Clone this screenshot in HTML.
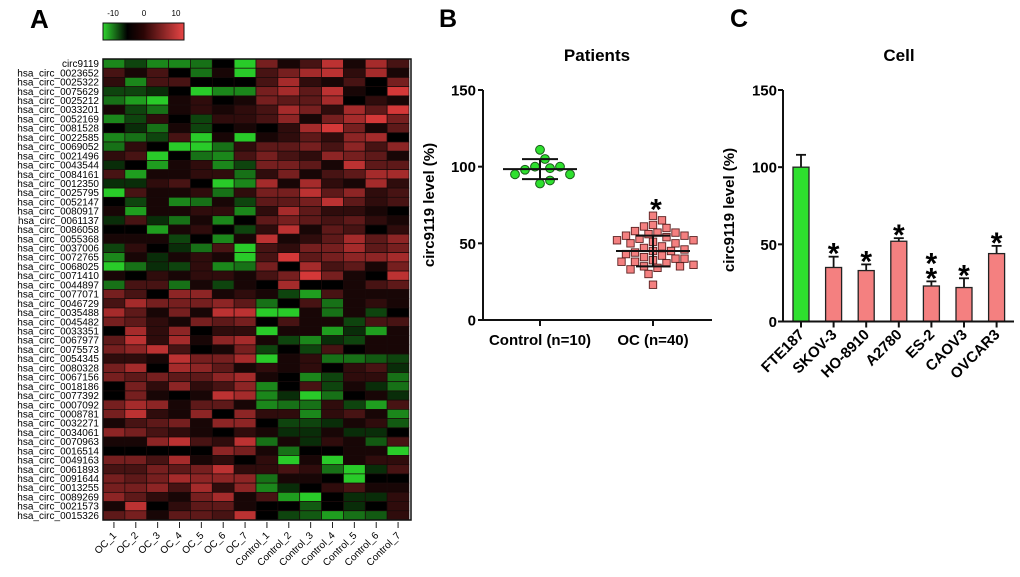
<!DOCTYPE html>
<html><head><meta charset="utf-8"><style>
html,body{margin:0;padding:0;background:#fff}
svg{display:block}
text{font-family:"Liberation Sans",Arial,sans-serif}
</style></head><body>
<svg id="fig" width="1020" height="577" viewBox="0 0 1020 577" xmlns="http://www.w3.org/2000/svg">
<text x="30" y="28" font-size="26" font-weight="bold">A</text>
<text x="439" y="27" font-size="25" font-weight="bold">B</text>
<text x="730" y="27" font-size="25" font-weight="bold">C</text>
<defs>
<linearGradient id="cbg" x1="0" x2="1" y1="0" y2="0">
<stop offset="0" stop-color="#2fd52f"/><stop offset="0.3" stop-color="#000"/><stop offset="0.5" stop-color="#2a0505"/><stop offset="1" stop-color="#e84545"/>
</linearGradient>
</defs>
<g>
<rect x="103" y="23" width="81" height="17" fill="url(#cbg)" stroke="#111" stroke-width="1"/>
<text x="113" y="16" font-size="8" text-anchor="middle">-10</text>
<text x="144" y="16" font-size="8" text-anchor="middle">0</text>
<text x="176" y="16" font-size="8" text-anchor="middle">10</text>
</g>
<g id="heat"></g>
<g id="pb"></g>
<g id="pc"></g>
</svg>
<script>
const NS="http://www.w3.org/2000/svg";
function mk(p,tag,attrs,txt){const e=document.createElementNS(NS,tag);for(const k in attrs)e.setAttribute(k,attrs[k]);if(txt!==undefined)e.textContent=txt;p.appendChild(e);return e;}

// ===== Panel A data =====
const heatCols=["OC_1","OC_2","OC_3","OC_4","OC_5","OC_6","OC_7","Control_1","Control_2","Control_3","Control_4","Control_5","Control_6","Control_7"];
const heatRows=["circ9119","hsa_circ_0023652","hsa_circ_0025322","hsa_circ_0075629","hsa_circ_0025212","hsa_circ_0033201","hsa_circ_0052169","hsa_circ_0081528","hsa_circ_0022585","hsa_circ_0069052","hsa_circ_0021496","hsa_circ_0043544","hsa_circ_0084161","hsa_circ_0012350","hsa_circ_0025795","hsa_circ_0052147","hsa_circ_0080917","hsa_circ_0061137","hsa_circ_0086058","hsa_circ_0055368","hsa_circ_0037006","hsa_circ_0072765","hsa_circ_0068025","hsa_circ_0071410","hsa_circ_0044897","hsa_circ_0077071","hsa_circ_0046729","hsa_circ_0035488","hsa_circ_0045482","hsa_circ_0033351","hsa_circ_0067977","hsa_circ_0075573","hsa_circ_0054345","hsa_circ_0080328","hsa_circ_0067156","hsa_circ_0018186","hsa_circ_0077392","hsa_circ_0007092","hsa_circ_0008781","hsa_circ_0032271","hsa_circ_0034061","hsa_circ_0070963","hsa_circ_0016514","hsa_circ_0049163","hsa_circ_0061893","hsa_circ_0091644","hsa_circ_0013255","hsa_circ_0089269","hsa_circ_0021573","hsa_circ_0015326"];
const heatValues=[
[-6,-3,-6,-6,-5,0,-9,5,1,3,8,1,7,3],
[3,1,3,0,-5,1,-9,3,5,7,8,2,7,1],
[2,-6,3,3,0,0,0,3,7,2,1,3,0,5],
[-3,-3,-2,0,-9,-6,-6,5,7,4,8,1,0,9],
[-5,-7,-9,1,2,0,1,5,4,4,7,0,2,1],
[1,-3,-5,1,2,1,2,3,7,5,2,7,4,9],
[-6,-3,2,0,-3,2,2,3,6,1,5,7,9,5],
[0,-2,-5,1,-3,0,1,0,2,7,9,5,1,4],
[-6,-5,-3,3,-9,1,-9,1,2,4,2,6,7,0],
[-5,2,0,-9,-9,-5,2,4,4,5,3,6,3,6],
[2,3,-9,0,-5,-6,3,5,3,2,6,5,4,1],
[-2,0,-7,1,2,-6,-3,5,5,4,1,8,4,4],
[3,-7,1,1,2,2,-5,2,5,1,3,4,7,7],
[-2,-2,2,3,0,-9,-6,7,1,7,2,1,7,2],
[-9,3,1,1,2,-5,2,5,5,8,4,6,2,3],
[0,-3,1,-6,-5,1,-3,4,4,5,8,4,2,3],
[1,-7,1,1,2,2,-6,2,7,4,2,2,1,0],
[-2,3,-2,-5,1,-6,0,4,5,4,3,4,2,1],
[0,0,-7,1,2,0,-3,2,8,1,4,3,0,2],
[1,1,1,-3,0,-6,1,8,1,2,4,7,4,6],
[-3,2,0,-2,-5,3,-9,3,2,5,5,7,4,5],
[-6,1,-2,1,2,1,-9,3,9,4,5,6,6,7],
[-9,-5,-2,-3,2,-6,-5,5,0,7,3,4,1,5],
[1,0,2,1,2,2,1,3,5,9,5,1,0,8],
[-5,3,3,-5,1,-3,1,0,7,0,0,1,3,4],
[5,3,0,6,6,1,2,1,-3,-7,3,1,1,1],
[3,7,5,5,5,6,4,-5,0,3,-5,1,2,1],
[7,4,1,5,1,8,8,-9,-9,1,-5,1,-3,0],
[5,4,2,1,5,4,5,0,3,1,1,-3,3,3],
[0,7,2,6,0,2,2,-9,1,1,-7,-2,-7,1],
[4,8,2,7,1,6,7,1,-3,-6,-2,-3,1,1],
[5,6,8,3,0,1,5,-3,0,-3,3,0,1,1],
[2,2,1,8,5,5,7,-9,1,2,-5,-5,-4,-3],
[5,7,0,7,6,4,1,2,1,2,0,2,3,-2],
[5,4,5,4,4,6,7,1,0,-6,-3,2,2,-5],
[0,5,2,6,2,3,6,-6,0,3,-3,1,-2,-5],
[0,5,1,0,1,8,7,-6,-2,-9,-5,0,1,-2],
[5,7,6,1,4,4,1,-6,-5,-5,2,-3,-7,3],
[5,8,2,1,6,0,6,2,2,-6,2,3,1,-6],
[1,3,4,5,1,6,6,0,-3,-3,-2,1,2,-4],
[6,5,3,2,1,0,2,1,-2,-2,1,-2,-2,0],
[1,1,6,8,3,2,8,-5,1,-2,2,1,-4,3],
[0,0,0,0,0,6,5,1,-5,0,0,1,1,-9],
[5,5,3,7,1,2,0,2,-9,1,-9,1,2,2],
[3,3,5,4,5,8,2,2,3,2,-5,-9,-2,3],
[5,4,5,7,6,6,6,-5,1,1,0,-9,0,0],
[5,5,6,3,7,2,6,-6,-2,0,2,3,1,1],
[6,4,2,1,5,7,1,3,-7,-9,0,-2,-2,2],
[1,8,0,2,4,4,1,0,0,-4,0,-2,0,2],
[4,5,1,4,4,3,8,0,-3,-4,-7,-5,-4,2]
];

// ===== Panel B data =====
const patientGroups=["Control (n=10)","OC (n=40)"];
const controlValues=[111,105,100,99,98,100,95,95,89,91];
const ocValues=[68,65,62,61,60,58,57,57,56,55,55,54,53,52,52,51,50,50,48,47,46,45,45,44,43,42,41,40,40,39,38,38,37,36,35,35,34,33,30,23];
const patientMeans=[98.4,45];
const patientSD=[6.5,10];
const patientTicks=[0,50,100,150];

// ===== Panel C data =====
const cellLines=["FTE187","SKOV-3","HO-8910","A2780","ES-2","CAOV3","OVCAR3"];
const cellValues=[100,35,33,52,23,22,44];
const cellErrors=[8,7,4,2,3,6,5];
const cellStars=[0,1,1,1,2,1,1];
const cellTicks=[0,50,100,150];

// ===== Draw heatmap =====
(function(){
  const g=document.getElementById('heat');
  const x0=103,x1=409,y0=59,y1=520;
  const cw=(x1-x0)/heatCols.length, rh=(y1-y0)/heatRows.length;
  function col(v){
    const t=Math.min(1,Math.abs(v)/10);
    if(v<0) return `rgb(${Math.round(45*t)},${Math.round(225*t)},${Math.round(45*t)})`;
    return `rgb(${Math.round(235*t)},${Math.round(62*t)},${Math.round(62*t)})`;
  }
  heatRows.forEach((r,i)=>{
    const t=mk(g,'text',{x:99,y:y0+rh*i+rh/2+3.5,'font-size':10,'text-anchor':'end'},r);
    
    
    heatValues[i].forEach((v,j)=>{
      const c=mk(g,'rect',{x:x0+cw*j,y:y0+rh*i,width:cw,height:rh,fill:col(v),stroke:'#1a0a0a','stroke-width':0.7});
      
      
    });
  });
  const fr=mk(g,'rect',{x:x0,y:y0,width:x1-x0+2,height:y1-y0,fill:'none',stroke:'#111','stroke-width':1.5});
  
  
  heatCols.forEach((c,j)=>{
    const cx=x0+cw*j+cw/2;
    mk(g,'line',{x1:cx,x2:cx,y1:y1+2,y2:y1+8,stroke:'#222','stroke-width':1});
    const t=mk(g,'text',{x:cx+3,y:y1+16,'font-size':10,'text-anchor':'end',transform:`rotate(-45 ${cx+3} ${y1+16})`},c);
    
    
  });
})();

// ===== Panel B =====
(function(){
  const g=document.getElementById('pb');
  const ax=483,y0=320,y150=90,xr=712;
  const Y=v=>y0-(v/150)*(y0-y150);
  const cx=[540,653];
  const tt=mk(g,'text',{x:597,y:61,'font-size':17,'font-weight':'bold','text-anchor':'middle'},'Patients');
  
  
  const yt=mk(g,'text',{x:0,y:0,'font-size':15,'font-weight':'bold','text-anchor':'middle',transform:`translate(434 205) rotate(-90)`},'circ9119 level (%)');
  
  
  mk(g,'line',{x1:ax,x2:ax,y1:y150,y2:y0+1,stroke:'#111','stroke-width':2});
  mk(g,'line',{x1:ax-1,x2:xr,y1:y0,y2:y0,stroke:'#111','stroke-width':2});
  patientTicks.forEach(v=>{
    mk(g,'line',{x1:ax-5,x2:ax,y1:Y(v),y2:Y(v),stroke:'#111','stroke-width':2});
    mk(g,'text',{x:ax-7,y:Y(v)+5.5,'font-size':15,'font-weight':'bold','text-anchor':'end'},v);
  });
  patientGroups.forEach((n,i)=>{
    mk(g,'line',{x1:cx[i],x2:cx[i],y1:y0,y2:y0+6,stroke:'#111','stroke-width':2});
    const t=mk(g,'text',{x:cx[i],y:345,'font-size':15,'font-weight':'bold','text-anchor':'middle'},n);
    
    
  });
  function swarm(vals,c,d){
    const placed=[];const out=[];
    vals.forEach(v=>{
      const y=Y(v);let best=0;
      for(let k=0;k<40;k++){
        const off=(k%2?1:-1)*Math.ceil(k/2)*d/2;
        if(placed.every(p=>Math.hypot(p[0]-off,p[1]-y)>=d*0.95)){best=off;break;}
      }
      placed.push([best,y]);out.push([c+best,y]);
    });
    return out;
  }
  function stats(i,meanHalf,capHalf){
    const m=patientMeans[i],s=patientSD[i];
    mk(g,'line',{x1:cx[i]-meanHalf,x2:cx[i]+meanHalf,y1:Y(m),y2:Y(m),stroke:'#111','stroke-width':2});
    mk(g,'line',{x1:cx[i],x2:cx[i],y1:Y(m+s),y2:Y(m-s),stroke:'#111','stroke-width':2});
    [m+s,m-s].forEach(v=>mk(g,'line',{x1:cx[i]-capHalf,x2:cx[i]+capHalf,y1:Y(v),y2:Y(v),stroke:'#111','stroke-width':2}));
  }
  swarm(controlValues,cx[0],10).forEach(p=>{
    const c=mk(g,'circle',{cx:p[0],cy:p[1],r:4.4,fill:'#2ee02e',stroke:'#1a5a1a','stroke-width':1});
    
    
  });
  stats(0,37,18);
  swarm(ocValues,cx[1],9).forEach(p=>{
    const c=mk(g,'rect',{x:p[0]-3.7,y:p[1]-3.7,width:7.4,height:7.4,fill:'#f48080',stroke:'#5a2020','stroke-width':0.9});
    
    
  });
  stats(1,37,17);
  const mx=Math.max(...ocValues);
  const st=mk(g,'text',{x:cx[1]+3,y:Y(mx)+4,'font-size':30,'font-weight':'bold','text-anchor':'middle'},'*');
  
  
})();

// ===== Panel C =====
(function(){
  const g=document.getElementById('pc');
  const ax=783,y0=321.5,y150=90,xr=1014;
  const Y=v=>y0-(v/150)*(y0-y150);
  const X=i=>801+i*32.6;
  const bw=16;
  const tt=mk(g,'text',{x:899,y:61,'font-size':17,'font-weight':'bold','text-anchor':'middle'},'Cell');
  
  
  const yt=mk(g,'text',{x:0,y:0,'font-size':15,'font-weight':'bold','text-anchor':'middle',transform:`translate(734 210) rotate(-90)`},'circ9119 level (%)');
  
  
  cellValues.forEach((v,i)=>{
    const x=X(i);
    const top=Y(v+cellErrors[i]);
    mk(g,'line',{x1:x,x2:x,y1:Y(v),y2:top,stroke:'#111','stroke-width':1.8});
    mk(g,'line',{x1:x-5,x2:x+5,y1:top,y2:top,stroke:'#111','stroke-width':1.8});
    const b=mk(g,'rect',{x:x-bw/2,y:Y(v),width:bw,height:y0-Y(v),fill:i===0?'#2ee02e':'#f48080',stroke:'#222','stroke-width':1.3});
    
    
    for(let k=0;k<cellStars[i];k++){
      const s=mk(g,'text',{x:x,y:top+7-k*15,'font-size':30,'font-weight':'bold','text-anchor':'middle'},'*');
      
      
    }
    mk(g,'line',{x1:x,x2:x,y1:y0,y2:y0+6,stroke:'#111','stroke-width':2});
    const t=mk(g,'text',{x:x+4,y:y0+14,'font-size':15,'font-weight':'bold','text-anchor':'end',transform:`rotate(-45 ${x+4} ${y0+14})`},cellLines[i]);
    
    
  });
  mk(g,'line',{x1:ax,x2:ax,y1:y150,y2:y0+1,stroke:'#111','stroke-width':2});
  mk(g,'line',{x1:ax-1,x2:xr,y1:y0,y2:y0,stroke:'#111','stroke-width':2});
  cellTicks.forEach(v=>{
    mk(g,'line',{x1:ax-5,x2:ax,y1:Y(v),y2:Y(v),stroke:'#111','stroke-width':2});
    mk(g,'text',{x:ax-6,y:Y(v)+5.5,'font-size':15,'font-weight':'bold','text-anchor':'end'},v);
  });
})();
</script>
</body></html>
